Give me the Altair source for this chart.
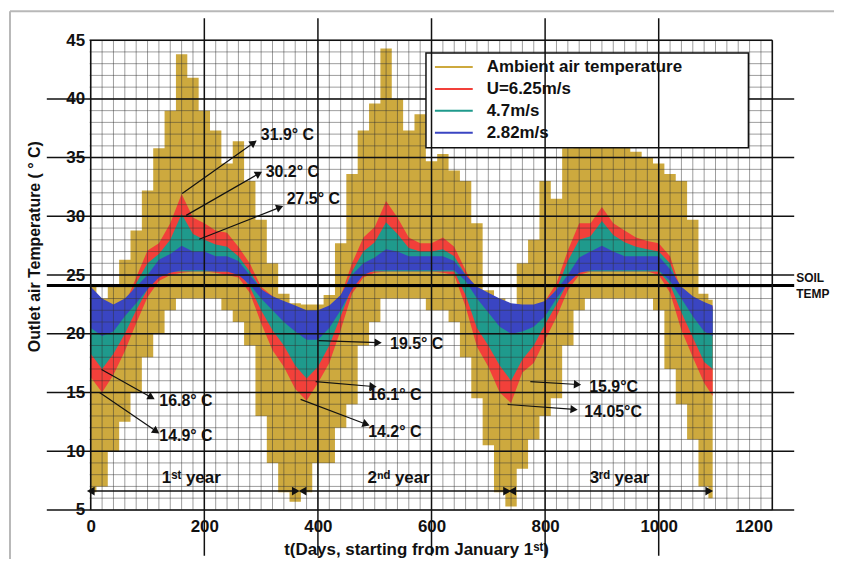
import math
import altair as alt
import pandas as pd

# ---------------- data ----------------
days = list(range(0, 1081, 20)) + [1095]

gold_hi = [24, 23, 24, 26.3, 28.8, 32.2, 35.8, 39, 43.8, 41.8,
           39, 37.3, 34.5, 36.4, 33, 29.7, 26, 23.4, 22.6, 22.5,
           22.5, 23.3, 27.7, 33.6, 37.3, 39.6, 44.3, 40, 37.3, 38.7,
           34.7, 35.3, 33.9, 33, 29.4, 23.7, 23, 22.5, 26, 28,
           33, 31.5, 35.8, 38, 38, 38, 37, 37, 35.5, 35,
           34.5, 33.6, 33, 29.7, 23.4, 22.9]
gold_lo = [6.5, 7, 10, 12.5, 15, 18, 20, 22, 23, 23,
           23, 23, 22, 21, 19, 13, 9, 6.5, 5.7, 6.5,
           9, 9, 12, 14, 19, 21, 23, 23, 23, 23,
           22, 22, 21, 18, 14.5, 10.5, 6.5, 5.3, 8.5, 11,
           13, 14.5, 19, 22, 23, 23, 23, 23, 23, 23,
           22, 17, 14, 11, 7, 6]
red_hi = [23.5, 22.5, 22, 22.5, 24.8, 27.1, 27.7, 29.4, 31.9, 29.9,
          29.4, 28.8, 28.6, 27.4, 26, 24, 23.2, 22.6, 22, 21.6,
          21.6, 22, 23.2, 26, 28.2, 29.1, 31.3, 29.9, 28.2, 27.7,
          27.7, 28.2, 27.4, 25.4, 23.5, 23, 22.5, 22, 22, 22.2,
          22.8, 24.3, 27.1, 29.4, 29.4, 30.8, 29.4, 28.8, 28.2, 27.9,
          27.7, 26.6, 23.6, 23, 22.5, 22.3]
red_lo = [16.3, 15, 16.5, 18.5, 20.9, 23.1, 24.5, 25, 25.2, 25.3,
          25.3, 25.2, 25, 24.8, 23.5, 20.9, 18.6, 17.2, 15.3, 14.3,
          15.8, 17.5, 20.3, 23.4, 24.8, 25.2, 25.3, 25.3, 25.3, 25.3,
          25.3, 25.2, 25, 22.3, 18.9, 17.2, 15, 14.1, 16.7, 17.5,
          19.5, 21.4, 23.7, 25, 25.3, 25.3, 25.3, 25.3, 25.3, 25.3,
          25, 23.5, 20.3, 18, 15.8, 14.7]
teal_hi = [23.3, 22.3, 21.8, 22.3, 24.3, 26, 26.8, 28, 30.2, 28.5,
           28, 27.6, 27.4, 26.6, 25.3, 23.8, 23, 22.4, 21.8, 21.4,
           21.4, 21.8, 23, 25.3, 27, 27.8, 29.5, 28.5, 27.3, 27,
           27, 27.2, 26.6, 25, 23.3, 22.8, 22.3, 21.8, 21.8, 22,
           22.6, 23.8, 26.2, 28, 28.3, 29.6, 28.4, 27.8, 27.4, 27.2,
           27, 26, 23.4, 22.8, 22.3, 22.1]
teal_lo = [18.3, 17, 18.3, 20, 22, 23.8, 25, 25.3, 25.3, 25.3,
           25.3, 25.3, 25.3, 25.3, 24, 22, 20.3, 19, 17.3, 16.2,
           17.2, 19, 21.5, 24, 25.2, 25.3, 25.3, 25.3, 25.3, 25.3,
           25.3, 25.3, 25.3, 23.3, 20.5, 19, 17.3, 16, 17.8, 19,
           20.8, 22.5, 24.4, 25.3, 25.3, 25.3, 25.3, 25.3, 25.3, 25.3,
           25.3, 24.2, 21.8, 19.7, 17.6, 17]
blue_hi = [24, 23, 22.5, 23, 24, 25, 26.3, 26.8, 27.5, 27,
           27, 26.6, 26.6, 26.2, 25, 23.8, 23.2, 22.8, 22.4, 22,
           22, 22.4, 23.3, 25, 26, 26.5, 27.2, 27, 26.6, 26.6,
           26.6, 26.6, 26.2, 25, 24, 23.5, 23, 22.6, 22.5, 22.5,
           22.8, 23.7, 25, 26.5, 27, 27.5, 27, 26.6, 26.6, 26.6,
           26.6, 25.5, 24, 23.2, 22.7, 22.4]
blue_lo = [20.5, 19.8, 20.2, 21.5, 22.6, 23.8, 24.8, 25.2, 25.4, 25.4,
           25.4, 25.3, 25.3, 25, 24.2, 23, 22, 21, 20.2, 19.5,
           19.5, 20.5, 22, 23.8, 25, 25.4, 25.4, 25.4, 25.4, 25.4,
           25.4, 25.4, 25.4, 24.5, 23, 21.8, 20.6, 20, 20.2, 20.6,
           21.5, 23, 24.3, 25.2, 25.4, 25.4, 25.4, 25.4, 25.4, 25.4,
           25.4, 24.5, 23, 21.5, 20.2, 19.8]

series_names = ["Ambient air temperature", "U=6.25m/s", "4.7m/s", "2.82m/s"]
series_colors = ["#CDA93E", "#F2403A", "#1F9A8C", "#3A45C2"]

soil_temp = 24.1

ann_label = ["31.9° C", "30.2° C", "27.5° C", "16.8° C", "14.9° C",
             "19.5° C", "16.1° C", "14.2° C", "15.9°C", "14.05°C"]
ann_x1 = [161, 168, 191, 19, 15.5, 401, 396, 369.5, 774, 734]
ann_y1 = [31.95, 30.08, 28.05, 16.95, 15.0, 19.41, 15.93, 14.41, 15.93, 13.98]
ann_x2 = [287, 296, 333, 107, 115.4, 506, 497, 485, 857, 851]
ann_y2 = [36.27, 33.64, 30.76, 14.58, 11.69, 19.24, 15.51, 12.29, 15.68, 13.56]
ann_tx = [299.4, 308, 345, 120.7, 120.7, 527, 488.6, 488.6, 877.6, 869]
ann_ty = [36.95, 33.8, 31.5, 14.24, 11.27, 19.15, 14.75, 11.61, 15.5, 13.3]

year_label = ["1ˢᵗ year", "2ⁿᵈ year", "3ʳᵈ year"]
year_start = [0, 373, 742]
year_end = [361, 733, 1089]
year_mid = [177, 542, 931]
year_line_y = 6.6
year_text_y = 7.7

x_ticks = [0, 200, 400, 600, 800, 1000, 1200]
y_ticks = [5, 10, 15, 20, 25, 30, 35, 40, 45]
minor_x = list(range(0, 1201, 20))
minor_y = list(range(5, 46))
major_x_long = [200, 400, 600, 800, 1000]
major_x_frame = [0, 1200]
major_y_long = [5, 10, 15, 20, 25, 30, 35, 40]

# ---------------- layout ----------------
W, H = 686, 472
XMIN, XMAX = -2, 1200
YMIN, YMAX = 5, 45
kx = W / (XMAX - XMIN)
ky = H / (YMAX - YMIN)
FONT = "Liberation Sans"
INK = "#111111"

xs = alt.Scale(domain=[XMIN, XMAX], nice=False, zero=False)
ys = alt.Scale(domain=[YMIN, YMAX], nice=False, zero=False)

x_axis = alt.Axis(values=x_ticks, format="d", grid=False, domain=False, ticks=False,
                  labelFont=FONT, labelFontSize=17, labelFontWeight="bold",
                  labelColor=INK, labelPadding=9,
                  title="t(Days, starting from January 1ˢᵗ)",
                  titleFont=FONT, titleFontSize=17, titleFontWeight="bold",
                  titleColor=INK, titleX=328, titleY=40,
                  titleBaseline="middle", titleAlign="center")
y_axis = alt.Axis(values=y_ticks, format="d", grid=False, domain=False, ticks=False,
                  labelFont=FONT, labelFontSize=17, labelFontWeight="bold",
                  labelColor=INK, labelPadding=5,
                  title="Outlet air Temperature ( ° C)",
                  titleFont=FONT, titleFontSize=16, titleFontWeight="bold",
                  titleColor=INK, titleX=-55, titleY=207, titleAngle=270,
                  titleBaseline="middle", titleAlign="center")


def X(field):
    return alt.X(field, scale=xs, axis=x_axis)


def Y(field):
    return alt.Y(field, scale=ys, axis=y_axis)


bands = pd.DataFrame({
    "day": days,
    "gold_lo": gold_lo, "gold_hi": gold_hi,
    "red_lo": red_lo, "red_hi": red_hi,
    "teal_lo": teal_lo, "teal_hi": teal_hi,
    "blue_lo": blue_lo, "blue_hi": blue_hi,
})


def band(lo, hi, color, interp):
    return alt.Chart(bands).mark_area(color=color, opacity=1, interpolate=interp).encode(
        x=X("day:Q"), y=Y(f"{lo}:Q"), y2=f"{hi}:Q")


layers = [
    band("gold_lo", "gold_hi", series_colors[0], "step"),
    band("red_lo", "red_hi", series_colors[1], "linear"),
    band("teal_lo", "teal_hi", series_colors[2], "linear"),
    band("blue_lo", "blue_hi", series_colors[3], "linear"),
]

# minor grid (over the data)
layers.append(alt.Chart(pd.DataFrame({"v": minor_x})).mark_rule(
    color="#333333", strokeWidth=0.8, opacity=0.6).encode(
    x=X("v:Q"), y=alt.value(0), y2=alt.value(H)))
layers.append(alt.Chart(pd.DataFrame({"v": minor_y})).mark_rule(
    color="#333333", strokeWidth=0.8, opacity=0.6).encode(
    y=Y("v:Q"), x=alt.value(0), x2=alt.value(W)))

# major horizontal lines (extend beyond the frame)
layers.append(alt.Chart(pd.DataFrame({"v": major_y_long})).mark_rule(
    color=INK, strokeWidth=1.5).encode(
    y=Y("v:Q"), x=alt.value(-43), x2=alt.value(708)))
layers.append(alt.Chart(pd.DataFrame({"v": [YMAX]})).mark_rule(
    color=INK, strokeWidth=1.5).encode(
    y=Y("v:Q"), x=alt.value(0), x2=alt.value(W)))

# soil temperature line
layers.append(alt.Chart(pd.DataFrame({"v": [soil_temp]})).mark_rule(
    color="#000000", strokeWidth=3).encode(
    y=Y("v:Q"), x=alt.value(-43), x2=alt.value(708)))
for word, dy in (("SOIL", -8), ("TEMP", 8)):
    layers.append(alt.Chart(pd.DataFrame({"t": [word], "v": [soil_temp]})).mark_text(
        font=FONT, fontSize=12, fontWeight="bold", color=INK, align="left",
        baseline="middle", dy=dy).encode(
        x=alt.value(710), y=Y("v:Q"), text="t:N"))

# legend box (drawn manually)
LX0, LX1, LY0, LY1 = 338, 662, 13, 108
layers.append(alt.Chart(pd.DataFrame({"a": [0]})).mark_rect(
    fill="white", stroke=INK, strokeWidth=1.5).encode(
    x=alt.value(LX0), x2=alt.value(LX1), y=alt.value(LY0), y2=alt.value(LY1)))

# major vertical lines
layers.append(alt.Chart(pd.DataFrame({"v": major_x_long})).mark_rule(
    color=INK, strokeWidth=1.5).encode(
    x=X("v:Q"), y=alt.value(-22), y2=alt.value(518)))
layers.append(alt.Chart(pd.DataFrame({"v": major_x_frame})).mark_rule(
    color=INK, strokeWidth=1.5).encode(
    x=X("v:Q"), y=alt.value(0), y2=alt.value(H)))

# legend entries
for i, (name, col) in enumerate(zip(series_names, series_colors)):
    ry = LY0 + 14 + i * 22
    layers.append(alt.Chart(pd.DataFrame({"a": [0]})).mark_rule(
        color=col, strokeWidth=2).encode(
        x=alt.value(LX0 + 9), x2=alt.value(LX0 + 47), y=alt.value(ry)))
    layers.append(alt.Chart(pd.DataFrame({"t": [name]})).mark_text(
        font=FONT, fontSize=17, fontWeight="bold", color=INK, align="left",
        baseline="middle").encode(
        x=alt.value(LX0 + 61), y=alt.value(ry), text="t:N"))

# annotations: arrows + labels
ang = []
for x1, y1, x2, y2 in zip(ann_x1, ann_y1, ann_x2, ann_y2):
    a = math.degrees(math.atan2(-(y2 - y1) * ky, (x2 - x1) * kx)) % 360
    ang.append(a)
ann = pd.DataFrame({"x1": ann_x1, "y1": ann_y1, "x2": ann_x2, "y2": ann_y2,
                    "tx": ann_tx, "ty": ann_ty, "label": ann_label, "ang": ang})
layers.append(alt.Chart(ann).mark_rule(color=INK, strokeWidth=1.2).encode(
    x=X("x1:Q"), y=Y("y1:Q"), x2="x2:Q", y2="y2:Q"))
layers.append(alt.Chart(ann).mark_point(
    shape="triangle-right", filled=True, color=INK, size=70, opacity=1).encode(
    x=X("x2:Q"), y=Y("y2:Q"), angle=alt.Angle("ang:Q", scale=None)))
layers.append(alt.Chart(ann).mark_text(
    font=FONT, fontSize=16, fontWeight="bold", color=INK, align="left",
    baseline="middle").encode(
    x=X("tx:Q"), y=Y("ty:Q"), text="label:N"))

# year arrows
yr = pd.DataFrame({"s": year_start, "e": year_end, "m": year_mid,
                   "label": year_label, "yl": [year_line_y] * 3,
                   "yt": [year_text_y] * 3})
layers.append(alt.Chart(yr).mark_rule(color=INK, strokeWidth=1.5).encode(
    x=X("s:Q"), x2="e:Q", y=Y("yl:Q")))
heads = pd.DataFrame({"x": year_start + year_end,
                      "y": [year_line_y] * 6,
                      "ang": [180] * 3 + [0] * 3})
layers.append(alt.Chart(heads).mark_point(
    shape="triangle-right", filled=True, color=INK, size=80, opacity=1).encode(
    x=X("x:Q"), y=Y("y:Q"), angle=alt.Angle("ang:Q", scale=None)))
layers.append(alt.Chart(yr).mark_text(
    font=FONT, fontSize=17, fontWeight="bold", color=INK, align="center",
    baseline="middle").encode(
    x=X("m:Q"), y=Y("yt:Q"), text="label:N"))

# outer gray frame of the figure
layers.append(alt.Chart(pd.DataFrame({"a": [0]})).mark_rule(
    color="#b8b8b8", strokeWidth=2).encode(
    x=alt.value(-80), x2=alt.value(752), y=alt.value(-29)))
layers.append(alt.Chart(pd.DataFrame({"a": [0]})).mark_rule(
    color="#b8b8b8", strokeWidth=2).encode(
    x=alt.value(-80), y=alt.value(-29), y2=alt.value(528)))

chart = alt.layer(*layers).properties(
    width=W, height=H,
    autosize=alt.AutoSizeParams(type="none"),
    padding={"left": 82, "top": 31, "right": 62, "bottom": 48},
).configure_view(stroke=None).configure(background="white")

chart.save("out.html", embed_options={"renderer": "svg", "actions": False})
